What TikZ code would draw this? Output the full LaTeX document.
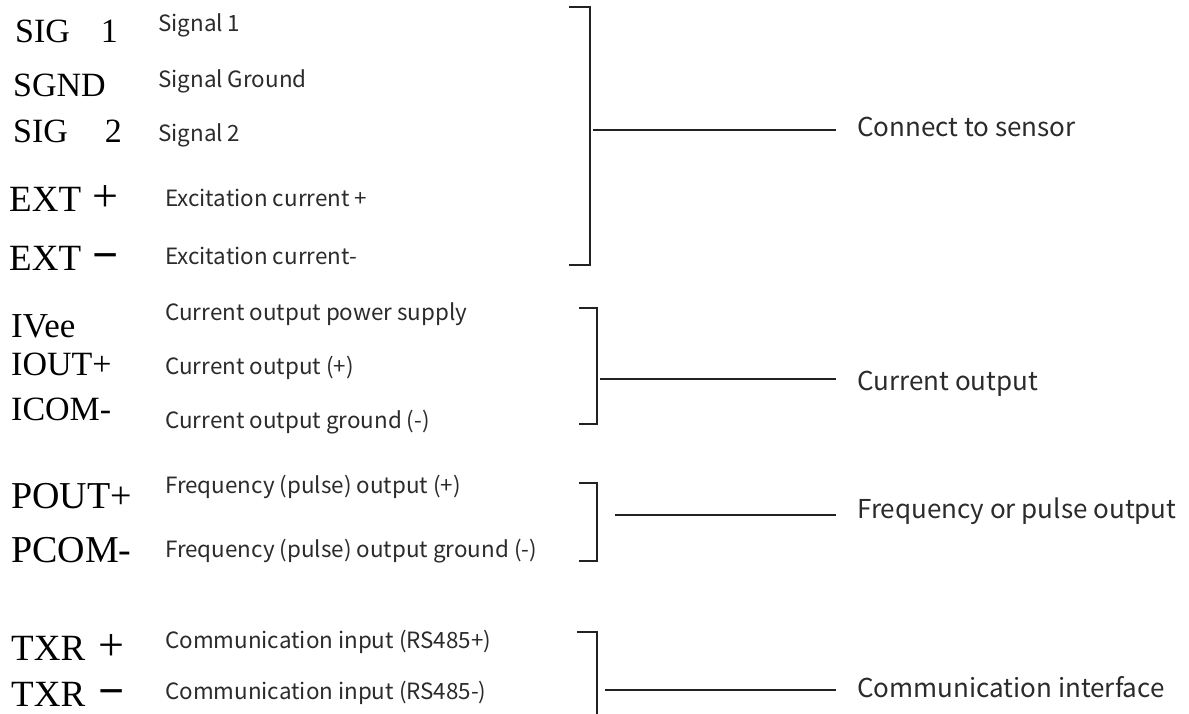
\documentclass[tikz,border=0pt]{standalone}
\usepackage{fontspec}
\usepackage{xcolor}
\setmainfont{Liberation Serif}
\newfontfamily\descfont{Noto Sans CJK SC}
\usetikzlibrary{positioning}
\definecolor{txtgray}{HTML}{2B2B2B}
\definecolor{inkgray}{HTML}{222222}
\newcommand{\bigplus}{{\fontsize{46}{46}\selectfont +}}
\newcommand{\bigminus}{{\fontsize{46}{46}\selectfont\bfseries −}}

\begin{document}
\begin{tikzpicture}[x=1pt, y=-1pt,
  pinlbl/.style={anchor=base west, inner sep=0pt, font=\fontsize{#1}{#1}\selectfont},
  desc/.style={anchor=base west, inner sep=0pt, text=txtgray, font=\descfont\fontsize{22.4}{24}\selectfont},
  grp/.style={anchor=base west, inner sep=0pt, text=txtgray, font=\descfont\fontsize{26}{28}\selectfont},
  brk/.style={draw=inkgray, line width=2.4pt},
  conn/.style={draw=inkgray, line width=2.2pt, shorten >=21pt}]
  \useasboundingbox (0,0) rectangle (1189,714);
  % terminal names
  \node[pinlbl=34] (sig1) at (15,43) {SIG\hspace{31pt}1};
  \node[pinlbl=34] (sgnd) at (13,97) {SGND};
  \node[pinlbl=34] (sig2) at (13,143) {SIG\hspace{37pt}2};
  \node[pinlbl=37] (extp) at (9,212) {EXT\hspace{11pt}\bigplus};
  \node[pinlbl=37] (extm) at (9,270) {EXT\hspace{11pt}\bigminus};
  \node[pinlbl=35] (ivee) at (11,337) {IVee};
  \node[pinlbl=34] (ioutp) at (11,375) {IOUT+};
  \node[pinlbl=34] (icomm) at (11,420) {ICOM-};
  \node[pinlbl=38] (poutp) at (11,508) {POUT+};
  \node[pinlbl=38] (pcomm) at (11,562) {PCOM-};
  \node[pinlbl=37] (txrp) at (11,660) {TXR\hspace{13pt}\bigplus};
  \node[pinlbl=37] (txrm) at (11,706) {TXR\hspace{13pt}\bigminus};
  % descriptions
  \node[desc] (dsig1) at (158,32) {Signal 1};
  \node[desc] (dsgnd) at (158,88) {Signal Ground};
  \node[desc] (dsig2) at (158,142) {Signal 2};
  \node[desc] (dextp) at (165,207) {Excitation current +};
  \node[desc] (dextm) at (165,265) {Excitation current-};
  \node[desc] (divee) at (165,320) {Current output power supply};
  \node[desc] (dioutp) at (165,374) {Current output (+)};
  \node[desc] (dicomm) at (165,428) {Current output ground (-)};
  \node[desc] (dpoutp) at (165,493) {Frequency (pulse) output (+)};
  \node[desc] (dpcomm) at (165,557) {Frequency (pulse) output ground (-)};
  \node[desc] (dtxrp) at (165,648) {Communication input (RS485+)};
  \node[desc] (dtxrm) at (165,699) {Communication input (RS485-)};
  % group labels
  \node[grp] (sensor) at (857,137) {Connect to sensor};
  \node[grp] (curout) at (857,390) {Current output};
  \node[grp] (pulse) at (857,518) {Frequency or pulse output};
  \node[grp] (comm) at (857,697) {Communication interface};
  % brackets
  \draw[brk] (569,7) -- (590,7) -- (590,265) -- (569,265);
  \draw[brk] (579,308) -- (597,308) -- (597,424) -- (579,424);
  \draw[brk] (579,483) -- (597,483) -- (597,561) -- (579,561);
  \draw[brk] (577,632) -- (597,632) -- (597,716);
  \coordinate (b1) at (593,130);
  \coordinate (b2) at (600,379);
  \coordinate (b3) at (615,515);
  \coordinate (b4) at (605,690);
  % connectors
  \draw[conn] (b1) -- (b1 -| sensor.west);
  \draw[conn] (b2) -- (b2 -| curout.west);
  \draw[conn] (b3) -- (b3 -| pulse.west);
  \draw[conn] (b4) -- (b4 -| comm.west);
\end{tikzpicture}
\end{document}
